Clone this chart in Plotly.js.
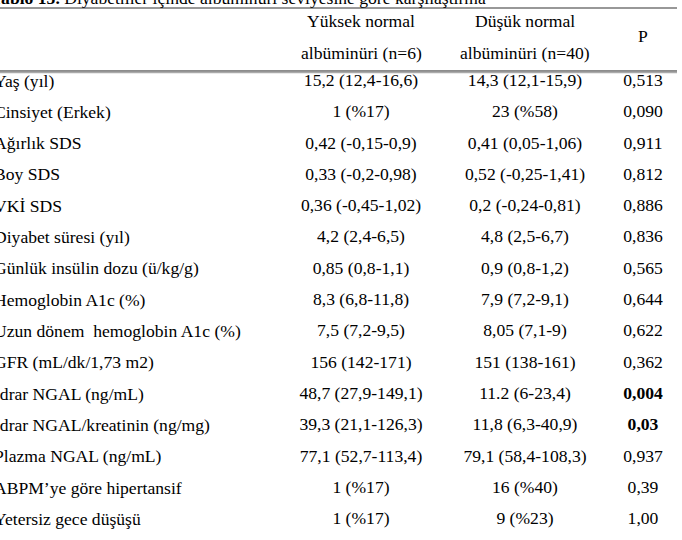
<!DOCTYPE html>
<html>
<head>
<meta charset="utf-8">
<script src="https://cdn.plot.ly/plotly-3.0.1.min.js"></script>
<style>html,body{margin:0;padding:0;background:#fff;}#chart{width:682px;height:540px;}</style>
</head>
<body>
<div id="chart"></div>
<script>
// ---- data ----
const titleBold = "Tablo 15.";
const titleRest = " Diyabetliler içinde albüminüri seviyesine göre karşılaştırma";
const headers = ["", "Yüksek normal<br>albüminüri (n=6)", "Düşük normal<br>albüminüri (n=40)", "P"];
const rowLabels = [
  "Yaş (yıl)",
  "Cinsiyet (Erkek)",
  "Ağırlık SDS",
  "Boy SDS",
  "VKİ SDS",
  "Diyabet süresi (yıl)",
  "Günlük insülin dozu (ü/kg/g)",
  "Hemoglobin A1c (%)",
  "Uzun dönem  hemoglobin A1c (%)",
  "GFR (mL/dk/1,73 m2)",
  "İdrar NGAL (ng/mL)",
  "İdrar NGAL/kreatinin (ng/mg)",
  "Plazma NGAL (ng/mL)",
  "ABPM’ye göre hipertansif",
  "Yetersiz gece düşüşü"
];
const highNormal = [
  "15,2 (12,4-16,6)", "1 (%17)", "0,42 (-0,15-0,9)", "0,33 (-0,2-0,98)", "0,36 (-0,45-1,02)",
  "4,2 (2,4-6,5)", "0,85 (0,8-1,1)", "8,3 (6,8-11,8)", "7,5 (7,2-9,5)", "156 (142-171)",
  "48,7 (27,9-149,1)", "39,3 (21,1-126,3)", "77,1 (52,7-113,4)", "1 (%17)", "1 (%17)"
];
const lowNormal = [
  "14,3 (12,1-15,9)", "23 (%58)", "0,41 (0,05-1,06)", "0,52 (-0,25-1,41)", "0,2 (-0,24-0,81)",
  "4,8 (2,5-6,7)", "0,9 (0,8-1,2)", "7,9 (7,2-9,1)", "8,05 (7,1-9)", "151 (138-161)",
  "11.2 (6-23,4)", "11,8 (6,3-40,9)", "79,1 (58,4-108,3)", "16 (%40)", "9 (%23)"
];
const pValues = [
  "0,513", "0,090", "0,911", "0,812", "0,886", "0,836", "0,565", "0,644", "0,622", "0,362",
  "0,004", "0,03", "0,937", "0,39", "1,00"
];

// ---- layout constants ----
const W = 682, H = 540;
const FS = 17.6;
const FONT = "Liberation Serif, Times New Roman, serif";
const colX = [0, 361, 525, 643];
const labelShift = -8;
const row0 = 81.5, pitch = 31.32;
const py = p => 1 - p / H;
const font = {family: FONT, size: FS, color: "#000"};

const pText = pValues.map(v => parseFloat(v.replace(',', '.')) < 0.05 ? "<b>" + v + "</b>" : v);

function col(xv, texts) {
  return {
    type: "scatter", mode: "text",
    x: rowLabels.map(() => xv), y: rowLabels,
    text: texts, textposition: "middle center",
    textfont: font,
    cliponaxis: false, hoverinfo: "skip", showlegend: false
  };
}

const traces = [
  col(colX[1], highNormal),
  col(colX[2], lowNormal),
  col(colX[3], pText)
];

const annotations = [];
// row labels (left column, partially cut at the left edge as in the reference)
rowLabels.forEach(lbl => annotations.push({
  xref: "x", yref: "y", x: colX[0], y: lbl, xanchor: "left", yanchor: "middle",
  xshift: labelShift, yshift: 1, text: lbl, showarrow: false, font: font
}));
// title, mostly cut off at the top
annotations.push({
  xref: "x", yref: "paper", x: 0, y: py(10), xanchor: "left", yanchor: "bottom",
  xshift: -11, text: "<b>" + titleBold + "</b>" + titleRest, showarrow: false, font: font
});
for (let c = 1; c < headers.length; c++) {
  const parts = headers[c].split("<br>");
  if (parts.length === 2) {
    [21, 53].forEach((yy, i) => annotations.push({
      xref: "x", yref: "paper", x: colX[c], y: py(yy), xanchor: "center", yanchor: "middle",
      text: parts[i], showarrow: false, font: font
    }));
  } else {
    annotations.push({
      xref: "x", yref: "paper", x: colX[c], y: py(36), xanchor: "center", yanchor: "middle",
      text: parts[0], showarrow: false, font: font
    });
  }
}

const shapes = [
  {type: "line", xref: "x", yref: "paper", x0: 0, x1: 677, y0: py(8), y1: py(8), line: {color: "#333", width: 1.2}},
  {type: "line", xref: "x", yref: "paper", x0: 0, x1: 677, y0: py(71), y1: py(71), line: {color: "#666", width: 1.3}},
  {type: "line", xref: "x", yref: "paper", x0: 0, x1: 677, y0: py(72.5), y1: py(72.5), line: {color: "#aaa", width: 1.3}}
];

const layout = {
  width: W, height: H,
  margin: {l: 0, r: 0, t: 0, b: 0, pad: 0},
  paper_bgcolor: "#fff", plot_bgcolor: "#fff",
  xaxis: {range: [0, W], visible: false, fixedrange: true},
  yaxis: {type: "category", categoryorder: "array", categoryarray: rowLabels,
          range: [14 + (H - (row0 + 14 * pitch)) / pitch, -row0 / pitch],
          visible: false, fixedrange: true},
  annotations: annotations,
  shapes: shapes,
  showlegend: false
};

Plotly.newPlot("chart", traces, layout, {staticPlot: true, displayModeBar: false});
</script>
</body>
</html>
